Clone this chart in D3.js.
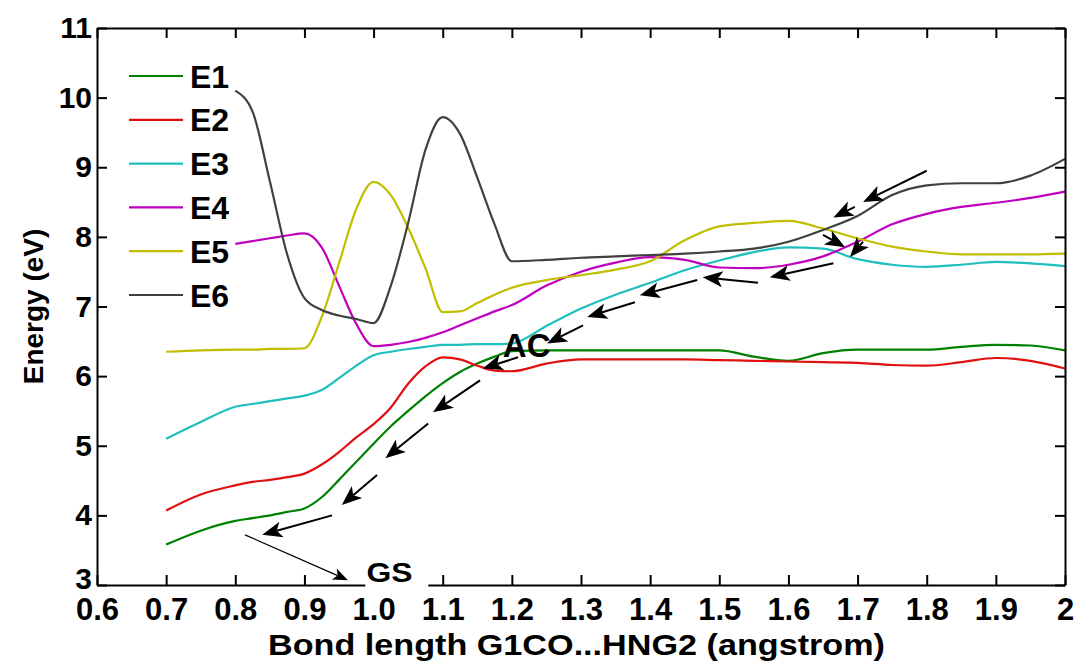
<!DOCTYPE html>
<html>
<head>
<meta charset="utf-8">
<script src="https://cdn.jsdelivr.net/npm/d3@7/dist/d3.min.js"></script>
<style>
  body { margin: 0; background: #fff; }
  text { font-family: "Liberation Sans", Arial, sans-serif; font-weight: bold; fill: #000; }
</style>
</head>
<body>
<div id="chart"></div>
<script>
// bond length grid (angstrom), finer where the curves turn sharply
const bondLength = [0.70, 0.75, 0.80, 0.825, 0.85, 0.875, 0.90, 0.925, 0.95, 0.975, 1.00, 1.025, 1.05, 1.075,
  1.10, 1.125, 1.15, 1.175, 1.20, 1.25, 1.30, 1.35, 1.40, 1.45, 1.50, 1.55, 1.60, 1.65, 1.70, 1.75,
  1.80, 1.85, 1.90, 1.95, 2.00];

const E1 = [3.58, 3.78, 3.92, 3.96, 4.00, 4.05, 4.10, 4.26, 4.51, 4.77, 5.03, 5.28, 5.50, 5.71,
  5.90, 6.06, 6.18, 6.28, 6.36, 6.37, 6.37, 6.37, 6.37, 6.37, 6.37, 6.28, 6.22, 6.33, 6.38, 6.38,
  6.38, 6.42, 6.45, 6.44, 6.37];
const E2 = [4.07, 4.30, 4.43, 4.48, 4.51, 4.55, 4.60, 4.73, 4.91, 5.12, 5.31, 5.55, 5.89, 6.14,
  6.27, 6.24, 6.15, 6.08, 6.07, 6.18, 6.24, 6.24, 6.24, 6.24, 6.23, 6.22, 6.21, 6.20, 6.19, 6.16,
  6.15, 6.20, 6.26, 6.22, 6.11];
const E3 = [5.10, 5.34, 5.56, 5.60, 5.64, 5.68, 5.72, 5.80, 5.97, 6.15, 6.30, 6.35, 6.39, 6.42,
  6.45, 6.45, 6.46, 6.46, 6.47, 6.72, 6.97, 7.17, 7.34, 7.52, 7.66, 7.78, 7.85, 7.83, 7.68, 7.60,
  7.57, 7.60, 7.64, 7.62, 7.58];
const E4 = [null, null, 7.90, 7.94, 7.98, 8.02, 8.05, 7.85, 7.30, 6.75, 6.43, 6.45, 6.49, 6.55,
  6.63, 6.73, 6.83, 6.93, 7.02, 7.30, 7.50, 7.63, 7.71, 7.67, 7.56, 7.55, 7.60, 7.72, 7.93, 8.18,
  8.33, 8.43, 8.49, 8.56, 8.65];
const E5 = [6.35, 6.37, 6.38, 6.38, 6.39, 6.39, 6.40, 6.85, 7.62, 8.40, 8.79, 8.60, 8.13, 7.55,
  6.92, 6.93, 7.05, 7.17, 7.27, 7.38, 7.45, 7.53, 7.65, 7.95, 8.15, 8.20, 8.23, 8.12, 7.98, 7.86,
  7.79, 7.75, 7.75, 7.75, 7.76];
const E6 = [null, null, 10.10, 9.80, 8.80, 7.75, 7.12, 6.95, 6.87, 6.82, 6.76, 7.30, 8.20, 9.25,
  9.72, 9.48, 8.85, 8.18, 7.65, 7.67, 7.70, 7.72, 7.74, 7.76, 7.79, 7.83, 7.93, 8.10, 8.30, 8.60,
  8.74, 8.77, 8.77, 8.88, 9.12];

const seriesNames = ["E1", "E2", "E3", "E4", "E5", "E6"];
const seriesValues = [E1, E2, E3, E4, E5, E6];
const seriesColors = ["#008000", "#e01010", "#1fbfbf", "#bf00bf", "#bfbf00", "#404040"];

const xTicks = [0.6, 0.7, 0.8, 0.9, 1.0, 1.1, 1.2, 1.3, 1.4, 1.5, 1.6, 1.7, 1.8, 1.9, 2.0];
const xTickLabels = ["0.6", "0.7", "0.8", "0.9", "1.0", "1.1", "1.2", "1.3", "1.4", "1.5", "1.6", "1.7", "1.8", "1.9", "2"];
const yTicks = [3, 4, 5, 6, 7, 8, 9, 10, 11];

// annotation arrows: [x tail, y tail, x head, y head] in data units
const arrows = [
  [0.940, 4.00, 0.839, 3.72],
  [1.005, 4.58, 0.954, 4.15],
  [1.079, 5.32, 1.017, 4.82],
  [1.154, 5.94, 1.086, 5.48],
  [1.209, 6.27, 1.158, 6.11],
  [1.303, 6.73, 1.251, 6.47],
  [1.378, 7.06, 1.309, 6.85],
  [1.468, 7.38, 1.385, 7.16],
  [1.556, 7.34, 1.476, 7.42],
  [1.665, 7.62, 1.573, 7.42],
  [1.800, 8.95, 1.708, 8.50],
  [1.696, 8.43, 1.665, 8.28],
  [1.650, 8.03, 1.682, 7.85],
  [1.708, 7.93, 1.689, 7.71]
];
const gsArrow = [0.814, 3.72, 0.963, 3.07];

const W = 1077, H = 664;
const margin = { top: 28, right: 12, bottom: 79, left: 97 };
const width = W - margin.left - margin.right;
const height = H - margin.top - margin.bottom;

const svg = d3.select("#chart").append("svg")
  .attr("width", W)
  .attr("height", H);

const g = svg.append("g")
  .attr("transform", `translate(${margin.left},${margin.top})`);

const x = d3.scaleLinear().domain([0.6, 2.0]).range([0, width]);
const y = d3.scaleLinear().domain([3, 11]).range([height, 0]);

// curves
const line = d3.line()
  .defined(d => d[1] !== null)
  .x(d => x(d[0]))
  .y(d => y(d[1]))
  .curve(d3.curveMonotoneX);

seriesValues.forEach((vals, i) => {
  g.append("path")
    .datum(bondLength.map((b, j) => [b, vals[j]]))
    .attr("fill", "none")
    .attr("stroke", seriesColors[i])
    .attr("stroke-width", 2.2)
    .attr("d", line);
});

// arrows
function drawArrow(a, headLen, headW, sw) {
  const x0 = x(a[0]), y0 = y(a[1]), x1 = x(a[2]), y1 = y(a[3]);
  const ang = Math.atan2(y1 - y0, x1 - x0);
  const ux = Math.cos(ang), uy = Math.sin(ang);
  const bx = x1 - ux * headLen, by = y1 - uy * headLen;
  const nx = x1 - ux * headLen * 0.75, ny = y1 - uy * headLen * 0.75;
  g.append("line")
    .attr("x1", x0).attr("y1", y0)
    .attr("x2", nx).attr("y2", ny)
    .attr("stroke", "#000")
    .attr("stroke-width", sw);
  const pts = [
    [x1, y1],
    [bx - uy * headW, by + ux * headW],
    [nx, ny],
    [bx + uy * headW, by - ux * headW]
  ];
  g.append("polygon")
    .attr("points", pts.map(p => p.join(",")).join(" "))
    .attr("fill", "#000");
}
arrows.forEach(a => drawArrow(a, 20, 8, 2));

// axes (ticks inward on all four sides)
const xAxis = g.append("g")
  .attr("transform", `translate(0,${height})`)
  .call(d3.axisBottom(x).tickValues(xTicks).tickSize(-10).tickSizeOuter(0).tickPadding(13)
    .tickFormat((d, i) => xTickLabels[i]));
xAxis.selectAll("text").style("font-size", "31px");

g.append("g")
  .call(d3.axisTop(x).tickValues(xTicks).tickSize(-10).tickSizeOuter(0).tickFormat(""));

const yAxis = g.append("g")
  .call(d3.axisLeft(y).tickValues(yTicks).tickSize(-10).tickSizeOuter(0).tickPadding(5)
    .tickFormat(d3.format("d")));
yAxis.selectAll("text").style("font-size", "30px");
yAxis.selectAll("text").filter(d => d === 3).attr("dy", "0.1em");

g.append("g")
  .attr("transform", `translate(${width},0)`)
  .call(d3.axisRight(y).tickValues(yTicks).tickSize(-10).tickSizeOuter(0).tickFormat(""));

g.selectAll(".domain").attr("stroke", "#000").attr("stroke-width", 2);
g.selectAll(".tick line").attr("stroke", "#000").attr("stroke-width", 2);
g.selectAll(".tick text").attr("fill", "#000")
  .style("font-family", "'Liberation Sans', Arial, sans-serif").style("font-weight", "bold");

// GS label with white backing on the axis, then its thin arrow
g.append("rect")
  .attr("x", x(0.988)).attr("y", y(3.3))
  .attr("width", 63).attr("height", 25)
  .attr("fill", "#fff");
g.append("text")
  .attr("x", x(1.0) - 7).attr("y", y(3.04))
  .attr("textLength", 46).attr("lengthAdjust", "spacingAndGlyphs")
  .style("font-size", "27px")
  .text("GS");
drawArrow(gsArrow, 15, 6, 1.2);

// AC label
g.append("text")
  .attr("x", x(1.187)).attr("y", y(6.27))
  .style("font-size", "33px")
  .text("AC");

// legend
const legend = g.append("g").attr("transform", "translate(32,48)");
seriesNames.forEach((name, i) => {
  const row = legend.append("g").attr("transform", `translate(0,${i * 43.8})`);
  row.append("line")
    .attr("x1", 0).attr("x2", 54)
    .attr("stroke", seriesColors[i])
    .attr("stroke-width", 2.2);
  row.append("text")
    .attr("x", 61).attr("dy", "0.36em")
    .style("font-size", "32px")
    .text(name);
});

// axis titles
svg.append("text")
  .attr("x", 268).attr("y", 655)
  .attr("textLength", 617).attr("lengthAdjust", "spacingAndGlyphs")
  .style("font-size", "30px")
  .text("Bond length G1CO...HNG2 (angstrom)");

svg.append("text")
  .attr("transform", `translate(43,${margin.top + height / 2}) rotate(-90)`)
  .attr("text-anchor", "middle")
  .style("font-size", "28px")
  .text("Energy (eV)");
</script>
</body>
</html>
